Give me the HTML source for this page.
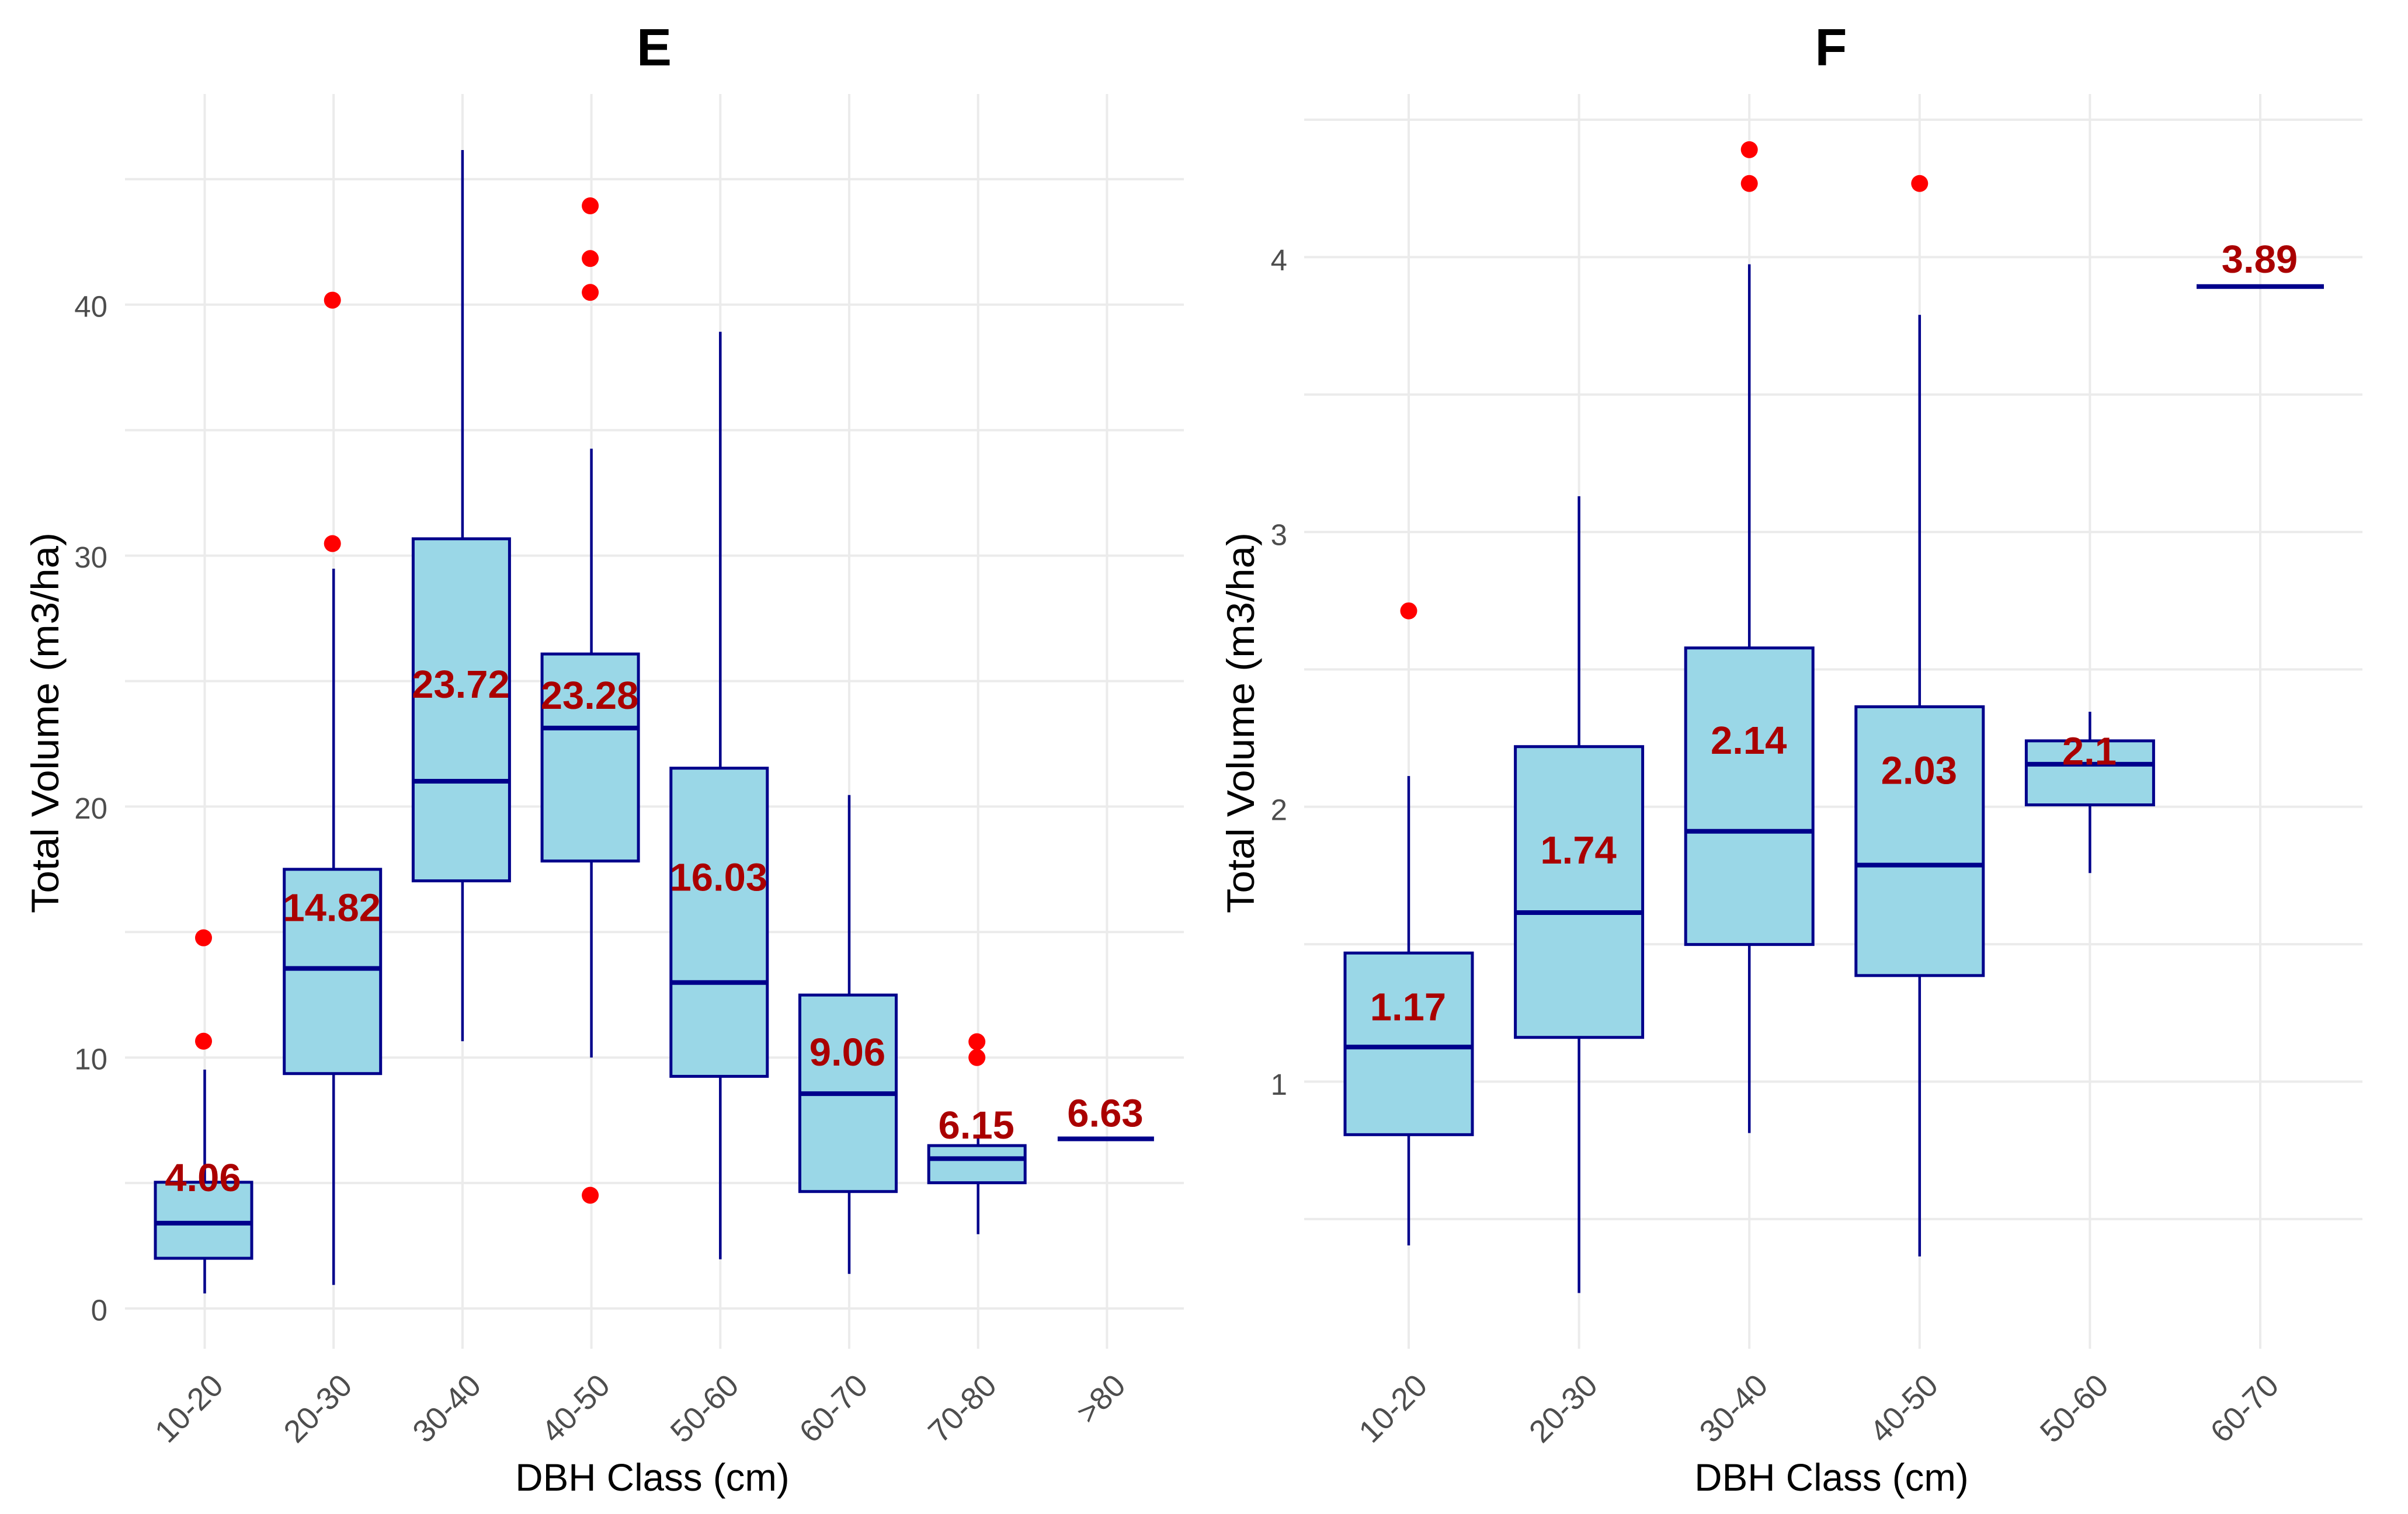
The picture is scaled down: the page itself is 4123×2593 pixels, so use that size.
<!DOCTYPE html>
<html lang="en">
<head>
<meta charset="utf-8">
<title>Total Volume by DBH Class</title>
<style>
html,body{margin:0;padding:0;background:#fff;}
svg{display:block;font-family:"Liberation Sans",sans-serif;}
</style>
</head>
<body>
<svg xmlns="http://www.w3.org/2000/svg" width="4123" height="2593" viewBox="0 0 4123 2593">
  <rect x="0" y="0" width="4123" height="2593" fill="#ffffff"/>
  <g id="panel-e"></g>
  <g id="panel-f"></g>
  <text x="1120" y="112" font-size="90" font-weight="bold" text-anchor="middle" fill="#000">E</text>
  <text x="3135" y="112" font-size="90" font-weight="bold" text-anchor="middle" fill="#000">F</text>
  <text x="1117" y="2553" font-size="65.5" text-anchor="middle" fill="#000">DBH Class (cm)</text>
  <text x="3136" y="2553" font-size="65.5" text-anchor="middle" fill="#000">DBH Class (cm)</text>
  <text transform="translate(100 1238) rotate(-90)" font-size="66" text-anchor="middle" textLength="652" lengthAdjust="spacingAndGlyphs" fill="#000">Total Volume (m3/ha)</text>
  <text transform="translate(2147 1238) rotate(-90)" font-size="66" text-anchor="middle" textLength="652" lengthAdjust="spacingAndGlyphs" fill="#000">Total Volume (m3/ha)</text>
</svg>
<script>
// Panel E data
const categoriesE = ["10-20","20-30","30-40","40-50","50-60","60-70","70-80",">80"];
const whiskerLowE = [0.60,0.94,10.65,10.0,1.96,1.38,2.96,6.76];
const q1E = [2.0,9.36,17.04,17.83,9.25,4.66,5.01,6.76];
const medianE = [3.40,13.55,21.01,23.13,12.99,8.56,5.97,6.76];
const q3E = [5.03,17.50,30.67,26.08,21.53,12.49,6.49,6.76];
const whiskerHighE = [9.52,29.48,46.16,34.26,38.92,20.46,6.83,6.76];
const outliersE = [[14.77,10.65],[40.18,30.48],[],[43.94,41.84,40.49,4.51],[],[],[10.63,10.0],[]];
const meansE = [4.06,14.82,23.72,23.28,16.03,9.06,6.15,6.63];
const gridValuesE = [0,5,10,15,20,25,30,35,40,45];
const tickLabelsE = [0,10,20,30,40];

// Panel F data
const categoriesF = ["10-20","20-30","30-40","40-50","50-60","60-70"];
const whiskerLowF = [0.404,0.231,0.813,0.364,1.759,3.893];
const q1F = [0.807,1.161,1.499,1.386,2.007,3.893];
const medianF = [1.126,1.615,1.911,1.788,2.155,3.893];
const q3F = [1.468,2.219,2.578,2.364,2.240,3.893];
const whiskerHighF = [2.112,3.13,3.974,3.79,2.346,3.893];
const outliersF = [[2.713],[],[4.391,4.268],[4.268],[],[]];
const meansF = [1.17,1.74,2.14,2.03,2.1,3.89];
const gridValuesF = [0.5,1,1.5,2,2.5,3,3.5,4,4.5];
const tickLabelsF = [1,2,3,4];

const SVG_NS = "http://www.w3.org/2000/svg";

function make(parent, tag, attrs, text) {
  const node = document.createElementNS(SVG_NS, tag);
  for (const key in attrs) node.setAttribute(key, attrs[key]);
  if (text !== undefined) node.textContent = text;
  parent.appendChild(node);
  return node;
}

function drawPanel(cfg) {
  const root = document.getElementById(cfg.id);
  const yScale = function (v) { return cfg.yZero - v * cfg.yUnit; };
  const xScale = function (i) { return cfg.xStart + i * cfg.xStep; };
  const lineX = function (i) { return xScale(i) + cfg.lineOffset; };

  cfg.gridValues.forEach(function (v) {
    const el = make(root, "line", {x1: cfg.left, x2: cfg.right, y1: yScale(v), y2: yScale(v), stroke: "#ebebeb", "stroke-width": 4});
    
    
  });

  cfg.categories.forEach(function (c, i) {
    const el = make(root, "line", {x1: lineX(i), x2: lineX(i), y1: 161, y2: 2310, stroke: "#ebebeb", "stroke-width": 4});
    
    
  });

  cfg.tickLabels.forEach(function (v) {
    const el = make(root, "text", {x: cfg.tickRight, y: yScale(v) + cfg.tickShift, "font-size": 51, "text-anchor": "end", fill: "#4d4d4d"}, String(v));
    
    
  });

  cfg.categories.forEach(function (c, i) {
    const px = lineX(i) + 21.5;
    const py = 2363;
    const el = make(root, "text", {x: px, y: py, dy: "0.35em", "font-size": 54, "text-anchor": "end", fill: "#4d4d4d", transform: "rotate(-45 " + px + " " + py + ")"}, c);
    
    
  });

  cfg.categories.forEach(function (c, i) {
    const cx = xScale(i);
    const lx = lineX(i);
    const half = cfg.boxWidth / 2;

    const upper = make(root, "line", {x1: lx, x2: lx, y1: yScale(cfg.whiskerHigh[i]), y2: yScale(cfg.q3[i]), stroke: "#00008b", "stroke-width": 4.5});
    
    

    const lower = make(root, "line", {x1: lx, x2: lx, y1: yScale(cfg.q1[i]), y2: yScale(cfg.whiskerLow[i]), stroke: "#00008b", "stroke-width": 4.5});
    
    

    if (cfg.q3[i] > cfg.q1[i]) {
      const box = make(root, "rect", {x: cx - half, y: yScale(cfg.q3[i]), width: cfg.boxWidth, height: yScale(cfg.q1[i]) - yScale(cfg.q3[i]), fill: "#9ad7e7", stroke: "#00008b", "stroke-width": 5});
      
      
    }

    const med = make(root, "line", {x1: cx - half, x2: cx + half, y1: yScale(cfg.median[i]), y2: yScale(cfg.median[i]), stroke: "#00008b", "stroke-width": 8});
    
    

    cfg.outliers[i].forEach(function (v) {
      const dot = make(root, "circle", {cx: cx, cy: yScale(v), r: 14.5, fill: "#ff0000"});
      
      
    });
  });

  cfg.categories.forEach(function (c, i) {
    const label = make(root, "text", {x: xScale(i) - 1, y: yScale(cfg.means[i]) - cfg.labelLift, "font-size": 67, "font-weight": "bold", "text-anchor": "middle", fill: "#aa0000"}, String(cfg.means[i]));
    
    
  });
}

drawPanel({
  id: "panel-e", categories: categoriesE, whiskerLow: whiskerLowE, q1: q1E, median: medianE, q3: q3E,
  whiskerHigh: whiskerHighE, outliers: outliersE, means: meansE, gridValues: gridValuesE, tickLabels: tickLabelsE,
  left: 214, right: 2027, tickRight: 184, tickShift: 20.5, labelLift: 26.5, yZero: 2241, yUnit: 42.98, xStart: 348.5, xStep: 220.7, lineOffset: 2, boxWidth: 165
});
drawPanel({
  id: "panel-f", categories: categoriesF, whiskerLow: whiskerLowF, q1: q1F, median: medianF, q3: q3F,
  whiskerHigh: whiskerHighF, outliers: outliersF, means: meansF, gridValues: gridValuesF, tickLabels: tickLabelsF,
  left: 2233, right: 4045, tickRight: 2204, tickShift: 22.5, labelLift: 25, yZero: 2323.2, yUnit: 470.7, xStart: 2412, xStep: 291.6, lineOffset: 0, boxWidth: 218
});
</script>
</body>
</html>
